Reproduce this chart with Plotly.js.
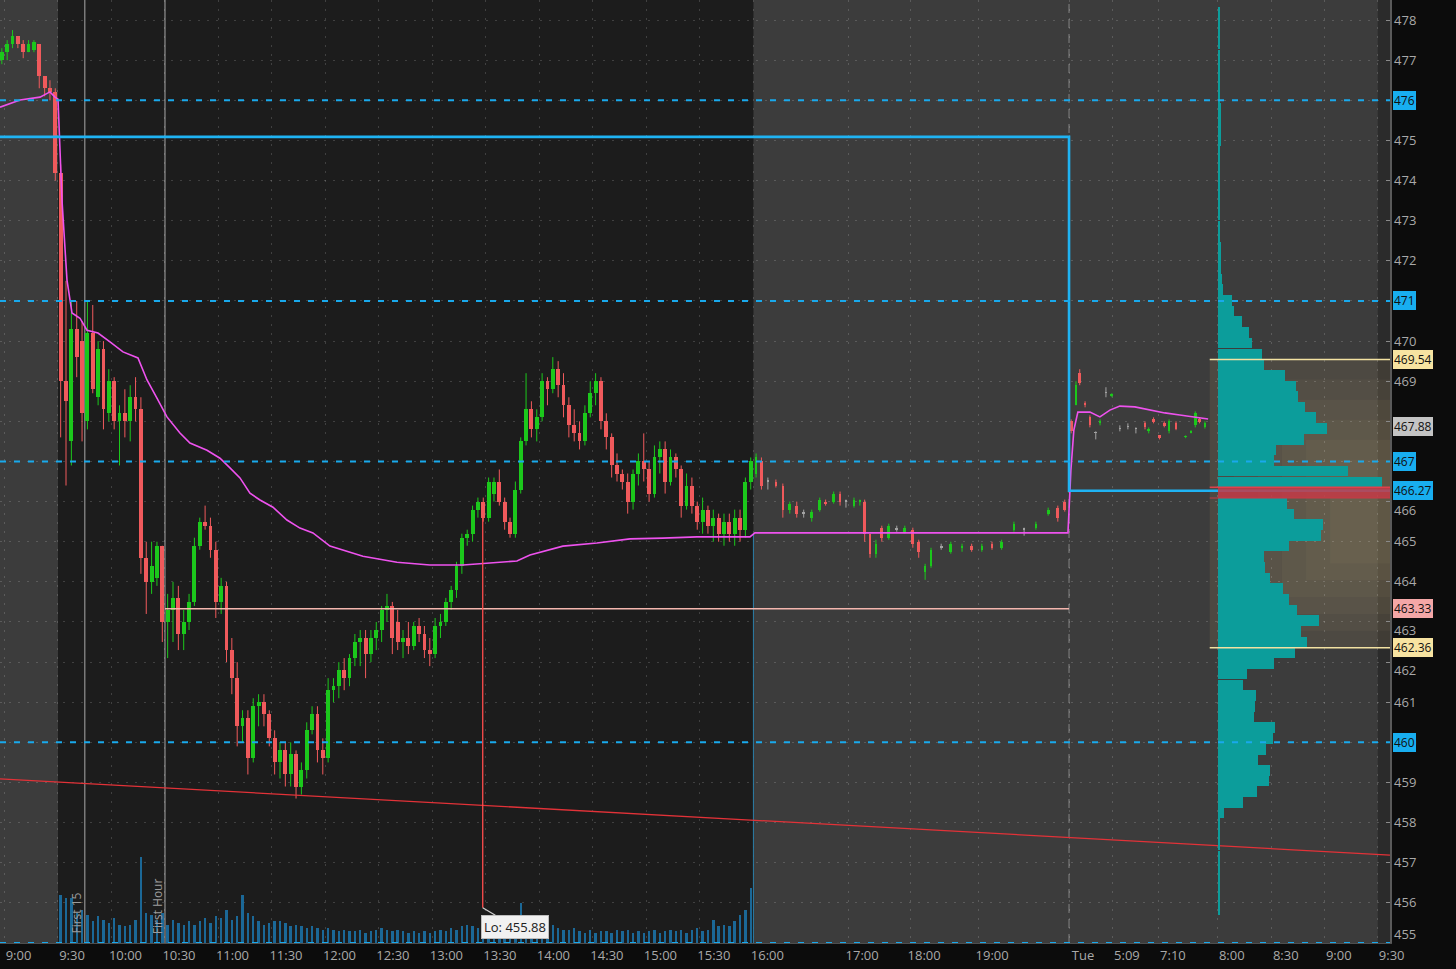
<!DOCTYPE html>
<html><head><meta charset="utf-8">
<script src="https://cdn.plot.ly/plotly-3.0.1.min.js"></script>
<style>html,body{margin:0;padding:0;background:#0c0c0c;overflow:hidden}#chart{width:1456px;height:969px}</style>
</head><body><div id="chart"></div>
<script>
// ---------- x slots (3-min bar index; 9:30 open = slot 0) ----------
const X0 = -11.34, X1 = 248.5;
const tickSlots = [-10.5,-0.5,9.5,19.5,29.5,39.5,49.5,59.5,69.5,79.5,89.5,99.5,109.5,119.5,129.5,147.2,158.8,171.5,188.5,196.7,205.3,216.3,226.4,236.3,246.2];
const tickText  = ['9:00','9:30','10:00','10:30','11:00','11:30','12:00','12:30','13:00','13:30','14:00','14:30','15:00','15:30','16:00','17:00','18:00','19:00','Tue','5:09','7:10','8:00','8:30','9:00','9:30'];
const priceTicks = [455,456,457,458,459,460,461,462,463,464,465,466,467,468,469,470,471,472,473,474,475,476,477,478];
// labels sitting next to a price badge / the time axis are drawn separately (nudged clear of it)
const priceTickText = ['','456','457','458','459','460','461','','','464','465','','467','','469','470','471','472','473','474','475','476','477','478'];
const nudgedTicks = [466, 463, 462];
const nudgedText = ['466', '463', '462'];
const bottomTick = 455, bottomTickText = '455';

// ---------- pre-market candles ----------
const preSlots = [-11,-10,-9,-8,-7,-6,-5,-4,-3,-2,-1];
const preOpen  = [477.0,477.2,477.4,477.6,477.4,477.2,477.25,477.4,476.6,476.3,476.2];
const preHigh  = [477.3,477.5,477.75,477.6,477.5,477.5,477.5,477.4,476.6,476.5,476.3];
const preLow   = [476.9,477.0,477.3,477.3,477.05,477.2,477.2,476.3,476.1,476.0,474.0];
const preClose = [477.2,477.4,477.6,477.4,477.2,477.4,477.45,476.6,476.3,476.2,474.2];

// ---------- regular session candles (slot = index) ----------
const dayOpen = [474.2,469.0,467.5,470.3,470.0,468.0,470.2,468.6,469.8,468.2,469.0,468.0,468.2,468.0,468.6,468.3,464.6,464.0,464.1,464.9,
463.0,463.3,463.6,462.7,463.0,463.5,464.9,465.5,465.4,464.8,463.5,463.9,462.3,461.6,460.4,460.6,459.6,460.9,461.0,460.7,
460.1,459.5,459.8,459.2,459.7,458.9,459.3,460.3,460.7,459.8,459.6,461.3,461.4,461.8,461.6,462.1,462.5,462.6,462.2,462.6,
462.8,463.3,463.4,463.0,462.5,462.6,462.4,462.9,462.7,462.3,462.2,462.9,463.0,463.5,463.8,464.4,465.1,465.2,465.8,466.0,
465.6,466.2,466.5,466.0,465.5,465.2,466.3,467.5,468.3,467.8,468.1,469.0,468.8,469.3,468.9,468.4,467.9,467.7,467.5,468.2,
468.7,469.0,468.0,467.6,466.9,466.7,466.5,466.0,466.7,467.0,466.8,466.2,467.1,467.3,466.5,467.1,466.8,465.9,466.4,465.9,
465.5,465.8,465.4,465.6,465.2,465.5,465.2,465.6,465.3,466.5];
const dayHigh = [474.4,471.5,471.0,471.0,470.5,471.0,470.9,470.0,470.0,469.3,469.1,468.4,468.8,468.9,469.1,468.6,465.0,465.0,465.0,464.9,
463.7,464.0,463.9,463.3,463.7,465.1,465.6,465.9,465.6,465.0,464.1,464.0,462.6,462.0,460.8,460.8,461.1,461.2,461.2,460.8,
460.3,460.0,460.0,460.0,459.8,459.5,460.5,460.9,460.9,460.1,461.6,461.6,462.0,462.1,462.2,462.7,462.8,462.8,462.8,463.0,
463.4,463.7,463.5,463.3,462.8,463.0,463.0,463.1,462.9,462.6,463.1,463.2,463.6,463.9,464.5,465.2,465.3,465.9,466.1,466.1,
466.6,466.6,466.8,466.1,465.6,466.5,467.6,469.2,468.5,468.3,469.2,469.1,469.6,469.5,469.2,468.6,468.3,468.0,468.4,469.0,
469.2,469.1,468.2,467.7,467.2,466.8,466.7,466.8,467.2,467.7,467.0,467.4,467.5,467.5,467.3,467.2,466.9,466.7,466.6,466.0,
466.1,465.9,465.8,465.7,465.7,465.7,465.8,465.8,466.6,467.1];
const dayLow = [467.6,466.4,466.9,469.1,467.5,467.8,468.7,468.4,467.8,468.0,467.8,466.9,467.6,467.5,468.0,464.2,463.2,463.7,463.9,462.5,
462.1,462.5,462.3,462.3,462.8,463.4,464.8,465.3,464.6,463.1,463.2,462.0,461.2,459.9,460.0,459.2,459.5,460.4,460.4,459.9,
459.2,459.1,458.9,458.9,458.6,458.7,459.1,460.2,459.5,459.2,459.5,461.0,461.1,461.3,461.4,461.9,461.9,461.6,462.0,462.3,
462.5,463.0,462.2,462.3,462.1,462.2,462.3,462.5,462.1,461.9,462.1,462.6,462.9,463.3,463.6,464.2,464.9,465.0,465.6,465.5,
465.5,466.0,465.9,465.3,465.1,465.1,466.2,467.4,467.6,467.5,468.0,468.4,468.7,468.6,468.1,467.6,467.5,467.3,467.4,468.1,
468.4,467.8,467.3,466.6,466.5,466.3,465.7,465.8,466.4,466.5,466.0,466.1,466.7,466.2,466.4,466.6,465.6,465.8,465.7,465.3,
465.2,465.2,465.0,465.0,464.9,465.0,464.9,465.0,465.1,466.3];
const dayClose = [469.0,468.5,470.3,469.6,468.2,470.2,468.8,469.8,468.3,469.0,468.0,468.2,468.0,468.6,468.3,464.6,464.0,464.4,464.9,463.0,
463.3,463.6,462.7,463.0,463.5,464.9,465.5,465.4,464.8,463.5,463.9,462.3,461.6,460.4,460.6,459.6,460.9,461.0,460.7,460.1,
459.5,459.8,459.2,459.7,458.9,459.3,460.3,460.7,459.8,459.6,461.3,461.4,461.8,461.6,462.1,462.5,462.6,462.2,462.6,462.8,
463.3,463.4,462.6,462.5,462.6,462.4,462.9,462.7,462.3,462.2,462.9,463.0,463.5,463.8,464.4,465.1,465.2,465.8,466.0,465.6,
466.5,466.5,466.0,465.5,465.2,466.3,467.5,468.3,467.8,468.1,469.0,468.8,469.3,468.9,468.4,467.9,467.7,467.5,468.2,468.7,
469.0,468.0,467.6,466.9,466.7,466.5,466.0,466.7,467.0,466.8,466.2,467.1,467.3,466.5,467.1,466.8,465.9,466.4,465.9,465.5,
465.8,465.4,465.6,465.2,465.5,465.2,465.6,465.3,466.5,467.0];
const dayVolumeK = [480,450,450,300,330,280,220,270,230,200,250,180,170,180,230,860,300,280,230,300,
180,230,200,180,220,180,220,250,200,270,250,330,230,270,480,300,270,220,180,200,
220,220,200,170,180,170,150,170,150,130,150,130,120,130,120,120,130,100,120,130,
150,130,120,130,120,100,120,100,120,100,120,130,120,150,130,170,180,170,150,170,
180,220,130,170,130,180,400,180,170,220,180,230,180,150,130,130,150,120,100,130,
100,120,120,100,130,120,130,100,120,100,120,130,100,120,130,120,130,100,130,150,
120,130,230,170,180,170,220,280,330,550];

// ---------- extended hours candles ----------
const ahSlots = [130.0,131.0,132.2,133.7,135.0,136.3,137.6,138.9,140.4,141.9,143.0,144.5,145.7,146.8,148.3,149.4,150.3,151.3,152.4,153.5,
154.8,156.3,157.8,159.3,160.4,161.6,162.7,164.6,166.4,168.5,170.3,172.2,174.1,175.9,178.2,180.1,182.3,184.6,186.4,187.7,
188.9,189.8,190.5,191.5,192.4,193.5,194.3,195.4,196.5,198.0,199.5,201.0,202.7,203.4,204.3,205.4,206.3,207.2,208.5,210.3,
211.3,212.1,212.9,213.9];
const ahOpen = [466.7,467.0,466.5,466.5,466.4,465.8,465.9,465.7,465.6,465.8,466.0,466.0,466.2,466.0,465.9,466.0,466.0,465.2,464.7,465.35,
465.1,465.3,465.25,465.3,465.0,464.25,464.4,464.85,464.75,464.85,464.9,464.8,464.95,464.85,465.3,465.3,465.35,465.7,465.85,466.0,
468.0,468.4,469.2,468.45,468.1,467.7,467.95,468.7,468.62,467.8,467.85,467.8,467.95,467.75,468.05,467.65,467.95,467.75,467.95,467.6,
467.72,467.9,468.05,467.85];
const ahHigh = [467.2,467.1,466.6,466.55,466.45,466.0,466.0,465.8,465.8,466.1,466.05,466.25,466.25,466.05,466.1,466.05,466.05,465.2,465.05,465.4,
465.45,465.4,465.4,465.35,465.05,464.45,464.85,464.95,465.0,464.95,464.95,464.95,465.0,465.05,465.5,465.35,465.5,465.85,465.9,466.05,
468.05,469.0,469.3,468.5,468.15,467.75,468.05,468.85,468.7,467.9,467.95,467.85,468.0,467.85,468.1,467.65,468.0,468.05,468.0,467.65,
467.78,468.25,468.1,468.0];
const ahLow = [466.6,466.3,466.3,466.35,465.6,465.7,465.6,465.6,465.5,465.75,465.9,465.95,465.9,465.85,465.85,465.9,465.0,464.6,464.6,465.0,
465.05,465.25,465.2,464.85,464.6,464.05,464.35,464.8,464.7,464.75,464.75,464.75,464.8,464.8,465.25,465.15,465.3,465.65,465.5,465.75,
467.7,468.4,468.9,468.35,467.85,467.55,467.9,468.6,468.6,467.75,467.8,467.7,467.8,467.7,467.95,467.55,467.85,467.7,467.78,467.58,
467.7,467.85,467.95,467.82];
const ahClose = [467.1,466.4,466.5,466.4,465.8,465.95,465.7,465.7,465.75,466.05,465.95,466.2,466.0,466.0,466.05,466.05,465.2,464.7,464.95,465.1,
465.4,465.3,465.35,464.95,464.75,464.4,464.8,464.85,464.95,464.9,464.8,464.9,464.85,465.0,465.45,465.3,465.45,465.8,465.6,465.8,
467.75,468.9,468.95,468.4,467.9,467.7,468.0,468.7,468.68,467.8,467.85,467.8,467.85,467.8,467.98,467.58,467.88,468.0,467.8,467.63,
467.76,468.2,467.98,467.95];

// ---------- VWAP ----------
const vwapSlots = [-11.34,-7.6,-3.86,-2.0,-1.06,-0.5,0.25,1.18,2.12,3.61,4.92,6.98,9.22,11.65,14.45,16.14,18.0,19.87,22.3,24.17,
27.35,29.78,31.65,33.52,35.39,37.26,39.69,42.3,44.73,47.16,50.34,56.5,62.86,69.03,75.2,81.56,85.29,87.73,93.89,100.25,
106.42,112.58,118.94,128.85,129.78,188.3,188.85,189.4,190.15,192.4,194.27,196.14,198.0,200.8,203.6,206.4,209.2,212.0,214.5];
const vwapPrice = [475.83,476.01,476.08,476.21,476.08,476.03,473.51,471.52,470.70,470.57,470.27,470.20,469.98,469.73,469.58,469.03,468.58,468.11,467.71,467.46,
467.28,467.08,466.84,466.59,466.21,466.04,465.86,465.54,465.34,465.22,464.89,464.64,464.49,464.42,464.42,464.49,464.52,464.67,464.89,464.97,
465.07,465.09,465.12,465.12,465.22,465.22,466.79,467.78,468.23,468.23,468.11,468.28,468.38,468.36,468.28,468.21,468.16,468.11,468.06];

// ---------- volume profile ----------
const profPrice = [455.84,456.11,456.37,456.64,456.91,457.17,457.44,457.70,457.97,458.24,458.50,458.77,459.04,459.30,459.57,459.83,460.10,460.37,460.63,460.90,
461.17,461.43,461.70,461.96,462.23,462.50,462.76,463.03,463.30,463.56,463.83,464.09,464.36,464.63,464.89,465.16,465.43,465.69,465.96,466.22,
466.49,466.76,467.02,467.29,467.55,467.82,468.09,468.35,468.62,468.88,469.15,469.42,469.68,469.95,470.21,470.48,470.75,471.01,471.28,471.54,
471.81,472.08,472.34,472.61,472.87,473.14,473.41,473.67,473.94,474.20,474.47,474.74,475.00,475.27,475.53,475.80,476.07,476.33,476.60,476.86,
477.13,477.40,477.66,477.93,478.19];
const profVol = [1.5,1.5,1.5,1.5,1.5,1.5,1.5,1.5,2,6,25,39,51,52,40,48,55,57,36,37,
38,25,29,56,77,89,83,101,79,71,65,52,47,46,71,103,105,76,69,172,
164,130,56,58,86,109,98,87,80,78,67,46,44,34,31,24,16,14,5,4,
3,3,3,2,2,2,2,2,2,2,2,2,3,3,3,3,2,2,2,2,
2,2,2,2,2];

// ---------- levels ----------
const dashedLevels = [476, 471, 467, 460, 455];
const priorRangeSlots = [X0, 188.5, 188.5, X1];
const priorRangePrice = [475.09, 475.09, 466.27, 466.27];
const midLevel = 463.33, midFrom = 19.5, midTo = 188.5;
const trendSlots = [X0, X1], trendPrice = [459.09, 457.19];
const valueHigh = 469.54, valueLow = 462.36, pocTop = 466.36, pocBottom = 466.09;
const loSlot = 78.9, loPrice = 455.88, loFrom = 465.6;
const badgeValues = [476, 471, 469.54, 467.88, 467, 466.27, 463.33, 462.36, 460];
const badgeLabels = ['476','471','469.54','467.88','467','466.27','463.33','462.36','460'];
const badgeColors = ['#18aef0','#18aef0','#f7e3a1','#c4c4c4','#18aef0','#18aef0','#f4a7a7','#f7e3a1','#18aef0'];

// ---------- build candles ----------
const UP = '#1cc81c', DN = '#f05a5c', FL = '#a3a3a3';
const cX = preSlots.concat(dayOpen.map((_, i) => i), ahSlots);
const cO = preOpen.concat(dayOpen, ahOpen);
const cH = preHigh.concat(dayHigh, ahHigh);
const cL = preLow.concat(dayLow, ahLow);
const cC = preClose.concat(dayClose, ahClose);
const cW = preSlots.map(() => 0.72).concat(dayOpen.map(() => 0.72), ahSlots.map(() => 0.5));
const colOf = i => cC[i] > cO[i] ? UP : (cC[i] < cO[i] ? DN : FL);
const cCol = cX.map((_, i) => colOf(i));

function wicks(color) {
  const x = [], y = [];
  cX.forEach((s, i) => { if (cCol[i] === color) { x.push(s, s, null); y.push(cL[i], cH[i], null); } });
  return {type:'scatter', mode:'lines', x, y, line:{color, width:1}, hoverinfo:'skip', showlegend:false};
}
const bodies = {
  type:'bar', x:cX, base:cX.map((_, i) => Math.min(cO[i], cC[i])),
  y:cX.map((_, i) => Math.max(Math.abs(cC[i] - cO[i]), 0.035)),
  width:cW, marker:{color:cCol, line:{width:0}}, hoverinfo:'skip', showlegend:false
};

const volume = {
  type:'bar', x:dayOpen.map((_, i) => i), y:dayVolumeK, yaxis:'y2', width:0.45,
  marker:{color:'#1b6897', line:{width:0}}, hoverinfo:'skip', showlegend:false
};
const maxProf = Math.max(...profVol);
const profile = {
  type:'bar', orientation:'h', x:profVol, y:profPrice, xaxis:'x2', width:0.266,
  marker:{color:profVol.map(v => v === maxProf ? 'rgba(196,58,70,0.85)' : '#0c9d9b'), line:{width:0}},
  hoverinfo:'skip', showlegend:false
};
const line = (x, y, color, width, dash) => ({type:'scatter', mode:'lines', x, y, line:{color, width, dash: dash || 'solid'}, hoverinfo:'skip', showlegend:false});

const traces = [
  line([129.5,129.5],[465.2,455],'#2a7ea8',1),
  wicks(UP), wicks(DN), wicks(FL), bodies,
  line(vwapSlots, vwapPrice, '#ee52ee', 1.6),
  line([midFrom, midTo],[midLevel, midLevel],'#f3b6ae',1.5),
  line(trendSlots, trendPrice, '#e23238', 1.3),
  line([loSlot, loSlot],[loFrom, loPrice],'#ff4c4c',1.3),
  line(priorRangeSlots, priorRangePrice, '#1fb3f3', 2.6),
  volume, profile
];

// ---------- shapes ----------
const VA0 = 214.8;
const shapes = [
  {type:'rect', xref:'x', yref:'paper', x0:-0.5, x1:129.5, y0:0, y1:1, fillcolor:'#1c1c1c', line:{width:0}, layer:'below'}
];
[0,1,2,3,4,5].forEach(k => shapes.push({type:'rect', xref:'x', yref:'y',
  x0:VA0 + k * 4.5, x1:X1, y0:valueLow + k * 0.42, y1:valueHigh - k * 0.5,
  fillcolor: k === 0 ? 'rgba(140,125,90,0.22)' : 'rgba(175,160,115,0.07)', line:{width:0}, layer:'below'}));
shapes.push(
  {type:'rect', xref:'x', yref:'paper', x0:246.2, x1:X1, y0:0, y1:1, fillcolor:'rgba(0,0,0,0.28)', line:{width:0}, layer:'below'},
  {type:'line', xref:'x', yref:'paper', x0:188.5, x1:188.5, y0:0, y1:1, line:{color:'#6c6c6c', width:1.5, dash:'9px,6px'}, layer:'below'},
  {type:'line', xref:'x', yref:'paper', x0:4.5, x1:4.5, y0:0, y1:1, line:{color:'#7a7a7a', width:1.5}, layer:'between'},
  {type:'line', xref:'x', yref:'paper', x0:19.5, x1:19.5, y0:0, y1:1, line:{color:'#7a7a7a', width:1.5}, layer:'between'},
  {type:'line', xref:'x', yref:'y', x0:VA0, x1:X1, y0:valueHigh, y1:valueHigh, line:{color:'#f3e2a2', width:1.5}, layer:'above'},
  {type:'line', xref:'x', yref:'y', x0:VA0, x1:X1, y0:valueLow, y1:valueLow, line:{color:'#f3e2a2', width:1.5}, layer:'above'},
  {type:'line', xref:'x', yref:'y', x0:VA0, x1:X1, y0:pocTop, y1:pocTop, line:{color:'#e0404a', width:1.5}, layer:'above'},
  {type:'line', xref:'x', yref:'y', x0:VA0, x1:X1, y0:pocBottom, y1:pocBottom, line:{color:'#c83a44', width:1.2}, layer:'above'}
);
dashedLevels.forEach(v => shapes.push({type:'line', xref:'x', yref:'y', x0:X0, x1:X1, y0:v, y1:v,
  line:{color:'#19a9ec', width:2, dash:'6px,8px'}, layer:'above'}));

// ---------- annotations ----------
const tickFont = {family:'Open Sans', size:13, color:'#a9a9a9'};
const annotations = badgeValues.map((v, i) => ({
  xref:'paper', x:1, xanchor:'left', xshift:3, yref:'y', y:v, yanchor:'middle',
  text:badgeLabels[i], showarrow:false, bgcolor:badgeColors[i], bordercolor:badgeColors[i], borderpad:0,
  font:{family:'Open Sans', size:12, color:'#101010'}
}));
nudgedTicks.forEach((v, i) => annotations.push({
  xref:'paper', x:1, xanchor:'left', xshift:2, yref:'y', y:v, yanchor:'top', yshift:3,
  text:nudgedText[i], showarrow:false, font:tickFont
}));
annotations.push({
  xref:'paper', x:1, xanchor:'left', xshift:2, yref:'y', y:bottomTick, yanchor:'bottom', yshift:-2,
  text:bottomTickText, showarrow:false, font:tickFont
});
annotations.push(
  {xref:'x', x:4.5, xshift:-8, yref:'paper', y:0.032, xanchor:'center', yanchor:'middle', textangle:-90,
   text:'First 15', showarrow:false, font:{family:'Open Sans', size:12, color:'#9c9c9c'}},
  {xref:'x', x:19.5, xshift:-8, yref:'paper', y:0.039, xanchor:'center', yanchor:'middle', textangle:-90,
   text:'First Hour', showarrow:false, font:{family:'Open Sans', size:12, color:'#9c9c9c'}},
  {xref:'x', x:loSlot, yref:'y', y:loPrice, text:'Lo: 455.88', showarrow:true, arrowhead:0, arrowwidth:1.2,
   arrowcolor:'#d0d0d0', ax:32, ay:19, bgcolor:'#f1f1f1', bordercolor:'#bdbdbd', borderpad:2,
   font:{family:'Open Sans', size:13, color:'#202020'}}
);

const gridCol = 'rgba(255,255,255,0.16)';
const layout = {
  width:1456, height:969, margin:{l:0, r:66, t:0, b:26},
  paper_bgcolor:'#0c0c0c', plot_bgcolor:'#3c3c3c', barmode:'overlay', bargap:0,
  hovermode:false, showlegend:false,
  xaxis:{type:'linear', range:[X0, X1], tickvals:tickSlots, ticktext:tickText, ticks:'', ticklabelshift:14,
    showgrid:true, griddash:'2px,7px', gridcolor:gridCol, gridwidth:1, zeroline:false,
    showline:true, linecolor:'#4e4e4e', linewidth:1, tickfont:tickFont, automargin:false, fixedrange:true},
  yaxis:{side:'right', range:[455, 478.5], tickvals:priceTicks, ticktext:priceTickText, ticks:'inside', ticklen:4, tickcolor:'#8a8a8a',
    showgrid:true, griddash:'2px,7px', gridcolor:gridCol, zeroline:false,
    showline:true, linecolor:'#5a5a5a', linewidth:1.5, tickfont:tickFont, automargin:false, fixedrange:true},
  xaxis2:{overlaying:'x', range:[-1218, 172], visible:false, fixedrange:true},
  yaxis2:{overlaying:'y', range:[0, 9430], visible:false, fixedrange:true},
  shapes, annotations
};
Plotly.newPlot('chart', traces, layout, {displayModeBar:false, staticPlot:true});
</script></body></html>
